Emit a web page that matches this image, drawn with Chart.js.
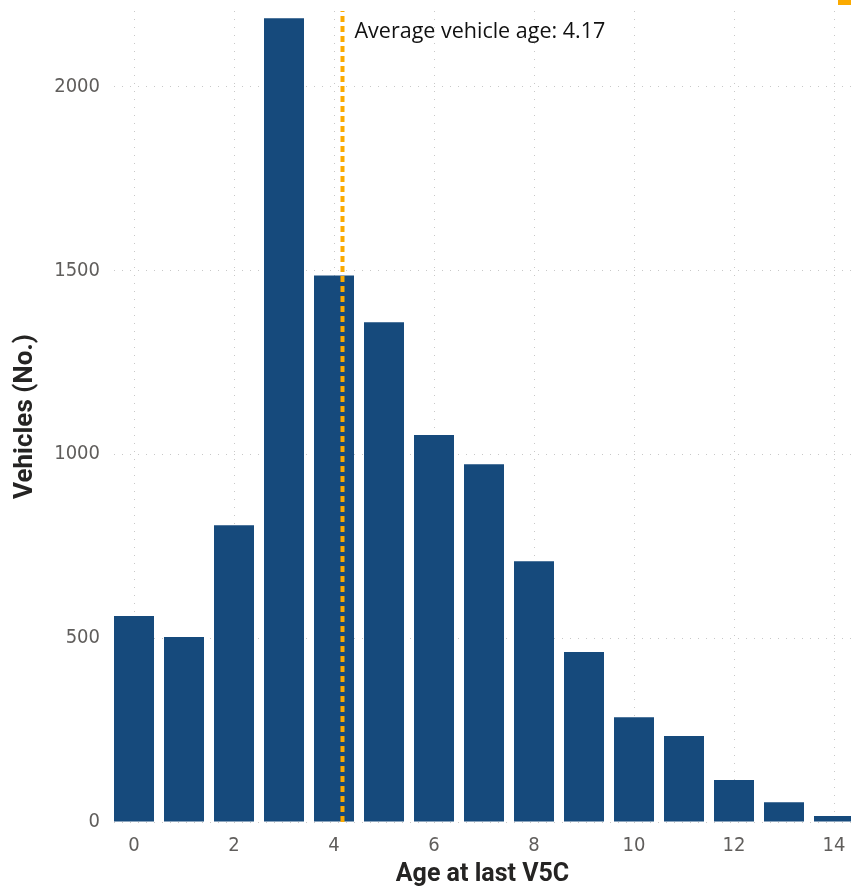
<!DOCTYPE html>
<html>
<head>
<meta charset="utf-8">
<script src="https://cdn.jsdelivr.net/npm/chart.js@4.4.0/dist/chart.umd.min.js"></script>
<style>
  html, body { margin: 0; padding: 0; background: #fff; }
  #wrap { width: 851px; height: 890px; position: relative; }
</style>
</head>
<body>
<div id="wrap"><canvas id="chart"></canvas></div>
<script>
// ---- DATA ----
const ages = [0, 1, 2, 3, 4, 5, 6, 7, 8, 9, 10, 11, 12, 13, 14];
const vehicles = [560, 503, 807, 2185, 1486, 1359, 1052, 973, 709, 462, 285, 234, 114, 54, 16];
const xTicks = [0, 2, 4, 6, 8, 10, 12, 14];
const yTicks = [0, 500, 1000, 1500, 2000];
const avgAge = 4.17;
const avgLabel = "Average vehicle age: 4.17";

// ---- STYLE ----
const barColor = "#164a7c";
const avgColor = "#fbaa00";
const gridColor = "#c8c8c8";
const tickFont = { family: "'DejaVu Sans Condensed', 'DejaVu Sans', sans-serif", style: "condensed", size: 20 };
const yMax = 2205;

// text next to the average line + small marker in the top corner
const avgLabelPlugin = {
    id: "avgLabel",
    afterDraw(chart) {
        const ctx = chart.ctx;
        const x = chart.scales.x.getPixelForValue(avgAge);
        ctx.save();
        ctx.font = "21.5px 'Open Sans', sans-serif";
        ctx.fillStyle = "#111";
        ctx.textBaseline = "middle";
        ctx.fillText(avgLabel, x + 12, 32);
        ctx.fillStyle = avgColor;
        ctx.fillRect(chart.width - 13, 0, 13, 5);
        ctx.restore();
    }
};

const ctx = document.getElementById("chart").getContext("2d");
new Chart(ctx, {
    data: {
        datasets: [
            {
                type: "line",
                data: [{ x: avgAge, y: 0 }, { x: avgAge, y: yMax }],
                borderColor: avgColor,
                borderWidth: 4,
                borderDash: [6, 4],
                pointRadius: 0,
                order: 0
            },
            {
                type: "bar",
                data: ages.map((a, i) => ({ x: a, y: vehicles[i] })),
                backgroundColor: barColor,
                barPercentage: 0.8,
                categoryPercentage: 1,
                order: 1
            }
        ]
    },
    options: {
        responsive: true,
        maintainAspectRatio: false,
        animation: false,
        layout: { padding: { top: 11, right: 0, left: 0, bottom: 0 } },
        plugins: { legend: { display: false }, tooltip: { enabled: false } },
        scales: {
            x: {
                type: "linear",
                min: -0.4,
                max: 14.34,
                offset: false,
                afterBuildTicks: s => { s.ticks = xTicks.map(v => ({ value: v })); },
                afterFit: s => { s.height = 68; s.paddingLeft = 0; s.paddingRight = 0; },
                border: { display: false, dash: [1, 7] },
                grid: { color: gridColor, drawTicks: false, offset: false },
                ticks: { color: "#605e5c", padding: 12, font: tickFont, maxRotation: 0, callback: v => String(v) },
                title: {
                    display: true,
                    text: "Age at last V5C",
                    color: "#252423",
                    font: { family: "Roboto, sans-serif", size: 25, weight: "bold" },
                    padding: { top: 0, bottom: 0 }
                }
            },
            y: {
                min: 0,
                max: yMax,
                afterBuildTicks: s => { s.ticks = yTicks.map(v => ({ value: v })); },
                afterFit: s => { s.width = 114; s.paddingTop = 0; s.paddingBottom = 0; },
                border: { display: false, dash: [1, 7] },
                grid: { color: gridColor, drawTicks: false },
                ticks: { color: "#605e5c", padding: 14, font: tickFont, callback: v => String(v) },
                title: {
                    display: true,
                    text: "Vehicles (No.)",
                    color: "#252423",
                    font: { family: "Roboto, sans-serif", size: 26, weight: "bold" },
                    padding: { top: 10, bottom: 0 }
                }
            }
        }
    },
    plugins: [avgLabelPlugin]
});
</script>
</body>
</html>
